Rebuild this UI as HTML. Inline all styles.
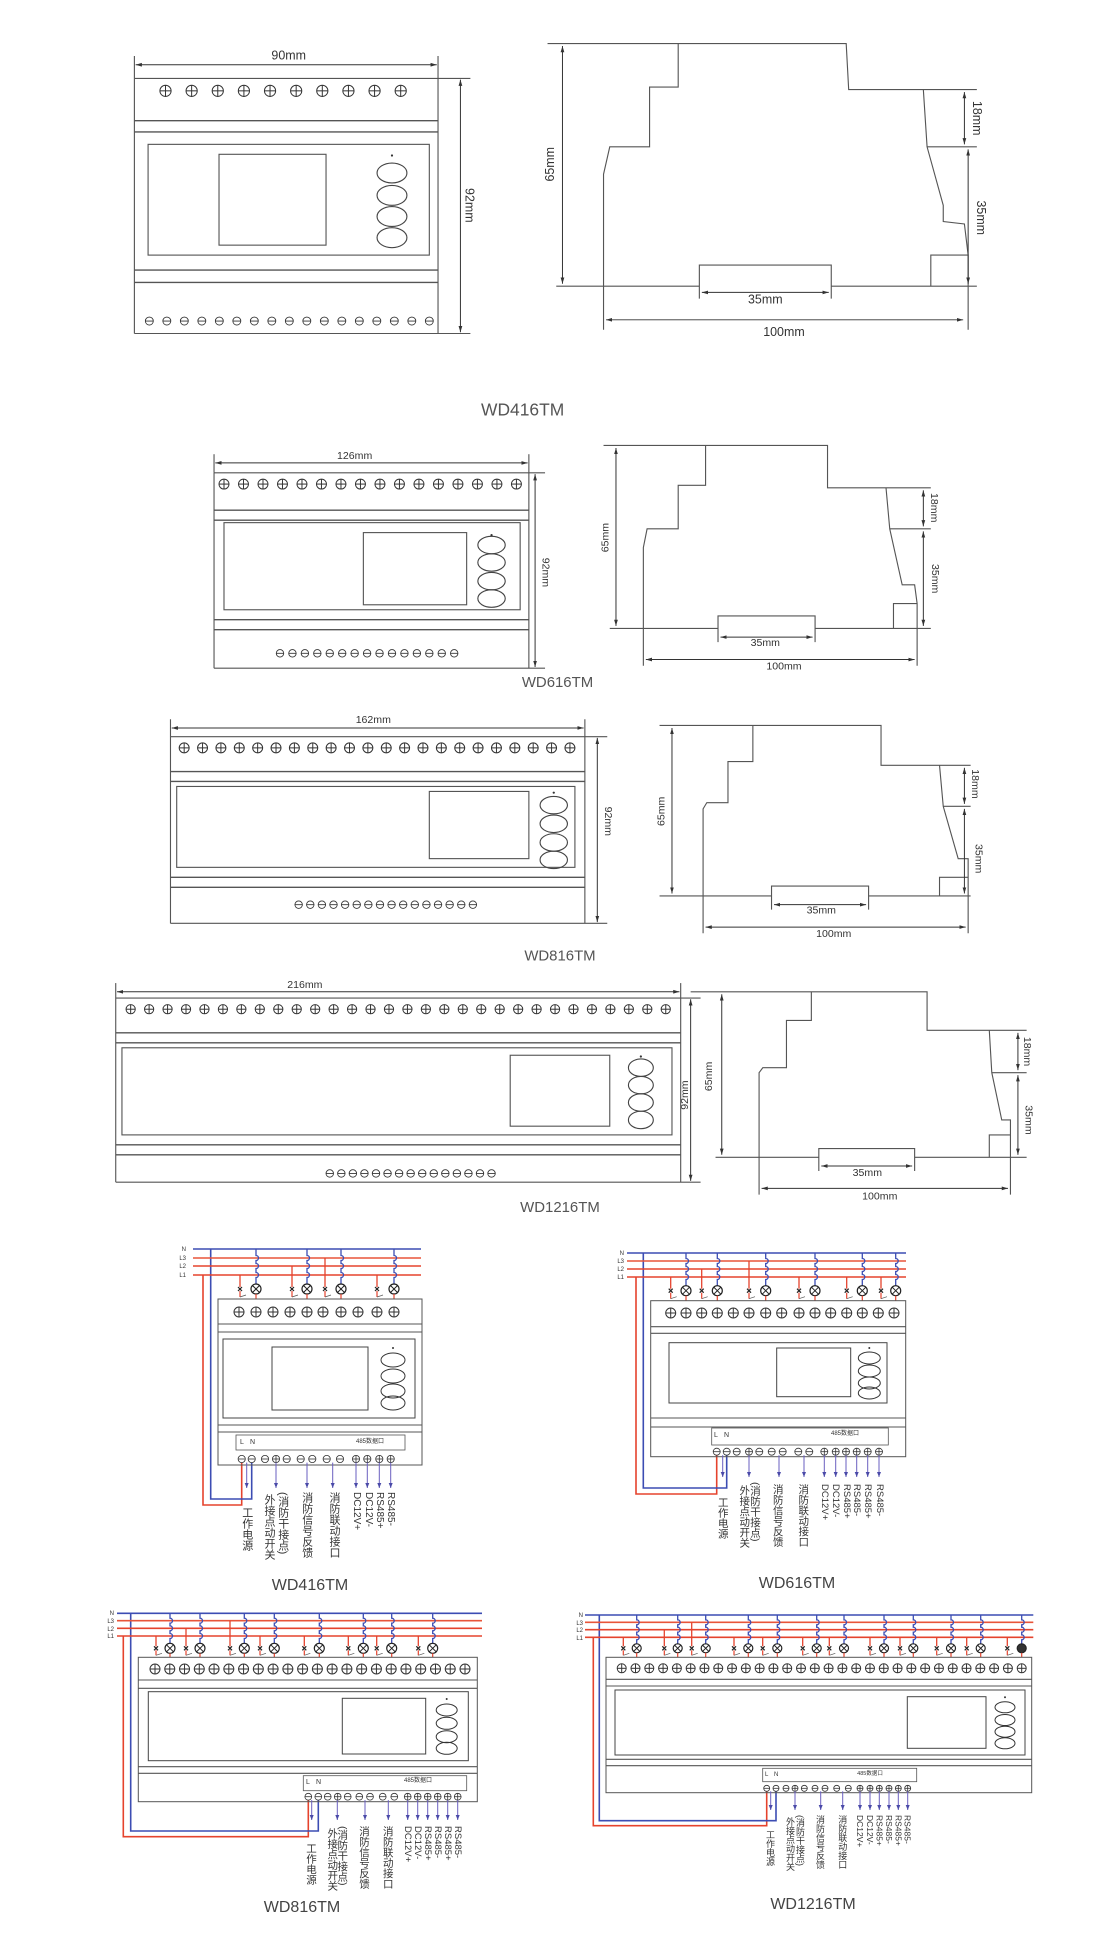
<!DOCTYPE html>
<html><head><meta charset="utf-8"><style>
html,body{margin:0;padding:0;background:#fff;}
svg{display:block;}
.t{font-family:"Liberation Sans Narrow","Liberation Sans",sans-serif;fill:#333;}
.c{font-family:"Liberation Sans","Noto Sans CJK SC",sans-serif;fill:#333;}
.v{writing-mode:vertical-rl;font-family:"Liberation Sans","Noto Sans CJK SC",sans-serif;fill:#333;}
.tt{font-family:"Liberation Sans Narrow","Liberation Sans",sans-serif;fill:#444;text-anchor:middle;}
</style></head><body>
<svg id="s" xmlns="http://www.w3.org/2000/svg" width="1120" height="1953" viewBox="0 0 1120 1953">
<defs>
<marker id="ar" viewBox="0 0 10 10" refX="10" refY="5" markerWidth="5" markerHeight="5" orient="auto-start-reverse" markerUnits="userSpaceOnUse"><path d="M0,2 L10,5 L0,8z" fill="#333"/></marker>
<marker id="ab" viewBox="0 0 10 10" refX="10" refY="5" markerWidth="5" markerHeight="5" orient="auto" markerUnits="userSpaceOnUse"><path d="M0,1 L10,5 L0,9z" fill="#4a4aa8"/></marker>
</defs>
<rect width="1120" height="1953" fill="#fff"/>
<g id="top" transform="scale(1.2444)">
<g fill="none" stroke="#555" stroke-width="0.9">
<!-- side views -->
<path d="M485,265 L485,140 L490,118 L522,118 L522,70 L545,70 L545,35 L680,35 L682,72 L742,72 L745,118 L758,165 L758,178 L775,180 L778,205 L778,265 M748,230 L748,205 L778,205 M440,35 L545,35 M682,72 L785,72 M745,118 L785,118 M447,230 L562,230 L562,213 L668,213 L668,230 L785,230 M562,213 L562,240 M668,213 L668,240"/>
<path d="M517,535 L517,440 L520,425 L545,425 L545,390 L567,390 L567,358 L665,358 L665,392 L712,392 L715,425 L725,470 L735,470 L737,485 L737,535 M718,505 L718,485 L737,485 M485,358 L567,358 M665,392 L748,392 M715,425 L748,425 M490,505 L577,505 L577,495 L655,495 L655,505 L748,505 M577,495 L577,516 M655,495 L655,516"/>
<path d="M565,750 L565,650 L568,645 L585,645 L585,612 L605,612 L605,583 L708,583 L708,615 L755,615 L758,648 L770,690 L778,690 L778,750 M755,720 L755,705 L778,705 M530,583 L605,583 M708,615 L780,615 M758,648 L780,648 M530,720 L620,720 L620,712 L698,712 L698,720 L780,720 M620,712 L620,731 M698,712 L698,731"/>
<path d="M610,960 L610,862 L613,858 L632,858 L632,820 L652,820 L652,797 L745,797 L745,828 L795,828 L797,862 L805,900 L812,900 L812,960 M795,930 L795,912 L812,912 M555,797 L652,797 M745,828 L825,828 M797,862 L825,862 M575,930 L658,930 L658,923 L735,923 L735,930 L825,930 M658,923 L658,941 M735,923 L735,941"/>
</g>
<g stroke="#333" stroke-width="0.8" marker-start="url(#ar)" marker-end="url(#ar)">
<line x1="452" y1="37" x2="452" y2="228"/><line x1="775" y1="74" x2="775" y2="116"/><line x1="778" y1="120" x2="778" y2="228"/><line x1="564" y1="235" x2="666" y2="235"/><line x1="487" y1="257" x2="774" y2="257"/>
<line x1="495" y1="360" x2="495" y2="503"/><line x1="742" y1="394" x2="742" y2="423"/><line x1="742" y1="427" x2="742" y2="503"/><line x1="579" y1="512" x2="653" y2="512"/><line x1="519" y1="530" x2="735" y2="530"/>
<line x1="540" y1="585" x2="540" y2="718"/><line x1="775" y1="617" x2="775" y2="646"/><line x1="775" y1="650" x2="775" y2="718"/><line x1="622" y1="727" x2="696" y2="727"/><line x1="567" y1="745" x2="776" y2="745"/>
<line x1="580" y1="799" x2="580" y2="928"/><line x1="818" y1="830" x2="818" y2="860"/><line x1="818" y1="864" x2="818" y2="928"/><line x1="660" y1="937" x2="733" y2="937"/><line x1="612" y1="955" x2="810" y2="955"/>
</g>
<g class="t" font-size="10">
<text x="232" y="48" text-anchor="middle">90mm</text>
<text transform="translate(374,165) rotate(90)" text-anchor="middle">92mm</text>
<text transform="translate(445,132) rotate(-90)" text-anchor="middle">65mm</text>
<text transform="translate(782,95) rotate(90)" text-anchor="middle">18mm</text>
<text transform="translate(785,175) rotate(90)" text-anchor="middle">35mm</text>
<text x="615" y="244" text-anchor="middle">35mm</text>
<text x="630" y="270" text-anchor="middle">100mm</text>
<text x="420" y="334" text-anchor="middle" font-size="14" fill="#555">WD416TM</text>
<g font-size="8.5">
<text x="285" y="369" text-anchor="middle">126mm</text>
<text transform="translate(436,460) rotate(90)" text-anchor="middle">92mm</text>
<text transform="translate(489,432) rotate(-90)" text-anchor="middle">65mm</text>
<text transform="translate(748,408) rotate(90)" text-anchor="middle">18mm</text>
<text transform="translate(749,465) rotate(90)" text-anchor="middle">35mm</text>
<text x="615" y="519" text-anchor="middle">35mm</text>
<text x="630" y="538" text-anchor="middle">100mm</text>
<text x="300" y="581" text-anchor="middle">162mm</text>
<text transform="translate(486,660) rotate(90)" text-anchor="middle">92mm</text>
<text transform="translate(534,652) rotate(-90)" text-anchor="middle">65mm</text>
<text transform="translate(781,630) rotate(90)" text-anchor="middle">18mm</text>
<text transform="translate(784,690) rotate(90)" text-anchor="middle">35mm</text>
<text x="660" y="734" text-anchor="middle">35mm</text>
<text x="670" y="753" text-anchor="middle">100mm</text>
<text x="245" y="794" text-anchor="middle">216mm</text>
<text transform="translate(553,880) rotate(-90)" text-anchor="middle">92mm</text>
<text transform="translate(572,865) rotate(-90)" text-anchor="middle">65mm</text>
<text transform="translate(823,845) rotate(90)" text-anchor="middle">18mm</text>
<text transform="translate(824,900) rotate(90)" text-anchor="middle">35mm</text>
<text x="697" y="945" text-anchor="middle">35mm</text>
<text x="707" y="964" text-anchor="middle">100mm</text>
</g>
<text x="448" y="552" text-anchor="middle" font-size="12" fill="#555">WD616TM</text>
<text x="450" y="772" text-anchor="middle" font-size="12" fill="#555">WD816TM</text>
<text x="450" y="974" text-anchor="middle" font-size="12" fill="#555">WD1216TM</text>
</g>
</g>
<g id="wire"></g>
<g id="txt">
<g class="c" font-size="6">
<text x="186" y="1251" text-anchor="end">N</text><text x="186" y="1260" text-anchor="end">L3</text><text x="186" y="1268" text-anchor="end">L2</text><text x="186" y="1277" text-anchor="end">L1</text>
<text x="624" y="1255" text-anchor="end">N</text><text x="624" y="1263" text-anchor="end">L3</text><text x="624" y="1271" text-anchor="end">L2</text><text x="624" y="1279" text-anchor="end">L1</text>
<text x="114" y="1615" text-anchor="end">N</text><text x="114" y="1623" text-anchor="end">L3</text><text x="114" y="1631" text-anchor="end">L2</text><text x="114" y="1638" text-anchor="end">L1</text>
<text x="583" y="1617" text-anchor="end">N</text><text x="583" y="1625" text-anchor="end">L3</text><text x="583" y="1632" text-anchor="end">L2</text><text x="583" y="1640" text-anchor="end">L1</text>
<text x="240" y="1444" font-size="7">L</text><text x="250" y="1444" font-size="7">N</text><text x="370" y="1443" font-size="6" text-anchor="middle">485数据口</text>
<text x="714" y="1437" font-size="7">L</text><text x="724" y="1437" font-size="7">N</text><text x="845" y="1435" font-size="6" text-anchor="middle">485数据口</text>
<text x="306" y="1784" font-size="7">L</text><text x="316" y="1784" font-size="7">N</text><text x="418" y="1782" font-size="6" text-anchor="middle">485数据口</text>
<text x="765" y="1776" font-size="6">L</text><text x="774" y="1776" font-size="6">N</text><text x="870" y="1775" font-size="5.5" text-anchor="middle">485数据口</text>
</g>
<g class="v" font-size="11">
<text x="246.7" y="1507">工作电源</text><text x="269" y="1494">外接点动开关</text><text x="282.7" y="1492">(消防干接点)</text><text x="306.7" y="1492">消防信号反馈</text><text x="334" y="1492">消防联动接口</text>
<g font-size="10"><text x="356.7" y="1492">DC12V+</text><text x="368.3" y="1492">DC12V-</text><text x="379.3" y="1492">RS485+</text><text x="390.7" y="1492">RS485-</text></g>
</g>
<g class="v" font-size="10.5">
<text x="722.7" y="1497">工作电源</text><text x="744.3" y="1485">外接点动开关</text><text x="755" y="1482">(消防干接点)</text><text x="777.7" y="1484">消防信号反馈</text><text x="803.3" y="1484">消防联动接口</text>
<g font-size="9.5"><text x="824.3" y="1484">DC12V+</text><text x="835.7" y="1484">DC12V-</text><text x="846.7" y="1484">RS485+</text><text x="856.7" y="1484">RS485-</text><text x="867.7" y="1484">RS485+</text><text x="879.3" y="1484">RS485-</text></g>
</g>
<g class="v" font-size="10.5">
<text x="311" y="1843">工作电源</text><text x="332.3" y="1828">外接点动开关</text><text x="342.3" y="1826">(消防干接点)</text><text x="364" y="1826">消防信号反馈</text><text x="387.7" y="1826">消防联动接口</text>
<g font-size="9.5"><text x="407.7" y="1826">DC12V+</text><text x="417.7" y="1826">DC12V-</text><text x="427.7" y="1826">RS485+</text><text x="437.7" y="1826">RS485-</text><text x="447.7" y="1826">RS485+</text><text x="457.7" y="1826">RS485-</text></g>
</g>
<g class="v" font-size="9">
<text x="770" y="1830">工作电源</text><text x="790" y="1817">外接点动开关</text><text x="800" y="1815">(消防干接点)</text><text x="820" y="1815">消防信号反馈</text><text x="842.3" y="1815">消防联动接口</text>
<g font-size="8.5"><text x="860" y="1815">DC12V+</text><text x="870" y="1815">DC12V-</text><text x="879.3" y="1815">RS485+</text><text x="889" y="1815">RS485-</text><text x="898.3" y="1815">RS485+</text><text x="907.7" y="1815">RS485-</text></g>
</g>
<g class="tt">
<text x="310" y="1590" font-size="16">WD416TM</text>
<text x="797" y="1588" font-size="16">WD616TM</text>
<text x="302" y="1912" font-size="16">WD816TM</text>
<text x="813" y="1909" font-size="16">WD1216TM</text>
</g>
</g>
</svg>
<script>
const NS='http://www.w3.org/2000/svg';
function el(p,t,a){const e=document.createElementNS(NS,t);for(const k in a)e.setAttribute(k,a[k]);p.appendChild(e);return e;}
function line(p,x1,y1,x2,y2,c,w){return el(p,'line',{x1:x1,y1:y1,x2:x2,y2:y2,stroke:c||'#555','stroke-width':w||1});}
function rect(p,x1,y1,x2,y2,c,w){return el(p,'rect',{x:x1,y:y1,width:x2-x1,height:y2-y1,fill:'none',stroke:c||'#555','stroke-width':w||1});}
function term(p,x,y,r,plus,w){el(p,'circle',{cx:x,cy:y,r:r,fill:'#fff',stroke:'#333','stroke-width':w});line(p,x-r,y,x+r,y,'#333',w);if(plus)line(p,x,y-r,x,y+r,'#333',w);}
function spread(a,b,n){const r=[];for(let i=0;i<n;i++)r.push(a+(b-a)*i/(n-1));return r;}
const top_=document.getElementById('top');
function front(c){const g=el(top_,'g',{});const w=0.9;
 line(g,c.x1,c.dimY-7,c.x1,c.top,'#555',w);line(g,c.x2,c.dimY-7,c.x2,c.top,'#555',w);
 el(g,'line',{x1:c.x1+1,y1:c.dimY,x2:c.x2-1,y2:c.dimY,stroke:'#333','stroke-width':0.8,'marker-start':'url(#ar)','marker-end':'url(#ar)'});
 line(g,c.x1,c.top,c.dimX+8,c.top,'#555',w);line(g,c.x1,c.bottom,c.dimX+8,c.bottom,'#555',w);
 line(g,c.x1,c.top,c.x1,c.bottom,'#555',w);line(g,c.x2,c.top,c.x2,c.bottom,'#555',w);
 el(g,'line',{x1:c.dimX,y1:c.top+1,x2:c.dimX,y2:c.bottom-1,stroke:'#333','stroke-width':0.8,'marker-start':'url(#ar)','marker-end':'url(#ar)'});
 [c.l1,c.l2,c.l3,c.l4].forEach(y=>line(g,c.x1,y,c.x2,y,'#555',1.1));
 rect(g,c.d[0],c.d[1],c.d[2],c.d[3],'#555',w);rect(g,c.s[0],c.s[1],c.s[2],c.s[3],'#555',w);
 c.by.forEach(y=>el(g,'ellipse',{cx:c.bx,cy:y,rx:c.rx,ry:c.ry,fill:'none',stroke:'#444','stroke-width':w}));
 el(g,'circle',{cx:c.bx,cy:c.dot,r:0.9,fill:'#333'});
 spread(c.tx[0],c.tx[1],c.tn).forEach(x=>term(g,x,c.ty,c.tr,true,0.8));
 spread(c.bt[0],c.bt[1],c.bn).forEach(x=>term(g,x,c.bty,c.br,false,0.7));
}
front({x1:108,x2:352,dimY:52,top:63,bottom:268,dimX:370,l1:97,l2:106,l3:217,l4:227,d:[119,116,345,205],s:[176,124,262,197],bx:315,by:[139,157,174,191],rx:12,ry:8,dot:125,tx:[133,322],tn:10,ty:73,tr:4.5,bt:[120,345],bn:17,bty:258,br:3.2});
front({x1:172,x2:425,dimY:372,top:380,bottom:537,dimX:430,l1:410,l2:418,l3:498,l4:506,d:[180,420,418,490],s:[292,428,375,486],bx:395,by:[438,452,467,481],rx:11,ry:7,dot:430,tx:[180,415],tn:16,ty:389,tr:4,bt:[225,365],bn:15,bty:525,br:3});
front({x1:137,x2:470,dimY:585,top:592,bottom:742,dimX:480,l1:620,l2:628,l3:705,l4:713,d:[142,632,462,697],s:[345,636,425,690],bx:445,by:[647,662,677,691],rx:11,ry:7,dot:637,tx:[148,458],tn:22,ty:601,tr:4,bt:[240,380],bn:16,bty:727,br:3});
front({x1:93,x2:547,dimY:797,top:802,bottom:950,dimX:555,l1:830,l2:838,l3:920,l4:928,d:[98,842,540,912],s:[410,848,490,905],bx:515,by:[858,872,886,900],rx:10,ry:7,dot:849,tx:[105,535],tn:30,ty:811,tr:3.7,bt:[265,395],bn:15,bty:943,br:3});

const W=document.getElementById('wire');
function poly(pts,c,w){el(W,'polyline',{points:pts.map(p=>p.join(',')).join(' '),fill:'none',stroke:c,'stroke-width':w});}
function wiring(c){
 const red='#e5432d',blue='#3c4db3';
 poly([[c.red[0],c.bus[3]],[c.red[0],c.red[1]],[c.bot[0],c.red[1]],[c.bot[0],c.botY]],red,1.6);
 poly([[c.blue[0],c.bus[0]],[c.blue[0],c.blue[1]],[c.bot[1],c.blue[1]],[c.bot[1],c.botY]],blue,1.6);
 line(W,c.bx[0],c.bus[0],c.bx[1],c.bus[0],blue,1.6);
 line(W,c.bx[0],c.bus[1],c.bx[1],c.bus[1],'#e8553a',1.6);
 line(W,c.bx[0],c.bus[2],c.bx[1],c.bus[2],red,1.6);
 line(W,c.bx[0],c.bus[3],c.bx[1],c.bus[3],red,1.6);
 const r=c.lr;
 c.pairs.forEach((p,i)=>{const b=p[0],l=p[1],k=p[2];
  line(W,b,c.bus[k],b,c.lampY-2,red,1.3);
  line(W,b-2,c.lampY-2,b+2,c.lampY+2,'#222',1.2);line(W,b-2,c.lampY+2,b+2,c.lampY-2,'#222',1.2);
  line(W,b,c.lampY+2,b,c.box[1]-2,red,1.2);
  line(W,b,c.box[1]-2,b+6,c.box[1]-4,'#555',0.7);
  let d='M'+l+','+c.bus[0];
  for(let j=1;j<4;j++){d+=' L'+l+','+(c.bus[j]-2.5)+' A2.5,2.5 0 0 1 '+l+','+(c.bus[j]+2.5);}
  d+=' L'+l+','+(c.lampY-r);
  el(W,'path',{d:d,fill:'none',stroke:blue,'stroke-width':1.3});
  const dark=(c.darkLast&&i==c.pairs.length-1);
  el(W,'circle',{cx:l,cy:c.lampY,r:r,fill:dark?'#333':'#fff',stroke:'#222','stroke-width':1.2});
  if(!dark){const q=r*0.7;line(W,l-q,c.lampY-q,l+q,c.lampY+q,'#222',1);line(W,l-q,c.lampY+q,l+q,c.lampY-q,'#222',1);}
  line(W,l,c.lampY+r,l,c.box[1],red,1.2);
 });
 rect(W,c.box[0],c.box[1],c.box[2],c.box[3],'#555',1);
 [c.la[0],c.la[1],c.lb[0],c.lb[1]].forEach(y=>line(W,c.box[0],y,c.box[2],y,'#555',1.1));
 rect(W,c.d[0],c.d[1],c.d[2],c.d[3],'#444',1);rect(W,c.s[0],c.s[1],c.s[2],c.s[3],'#444',1);
 c.by.forEach(y=>el(W,'ellipse',{cx:c.btnX,cy:y,rx:c.rx,ry:c.ry,fill:'none',stroke:'#333','stroke-width':1}));
 el(W,'circle',{cx:c.btnX,cy:c.dot,r:1,fill:'#333'});
 c.top.forEach(x=>term(W,x,c.topY,c.tr,true,1));
 rect(W,c.lbox[0],c.lbox[1],c.lbox[2],c.lbox[3],'#555',0.8);
 c.bot.forEach((x,i)=>term(W,x,c.botY,c.br,(i==3||i>=9),0.8));
 c.arr.forEach(x=>el(W,'line',{x1:x,y1:c.botY+c.br,x2:x,y2:c.arrEnd,stroke:'#6a5fc0','stroke-width':1,'marker-end':'url(#ab)'}));
}
wiring({bus:[1249,1258,1266,1275],bx:[193,421],red:[203,1505],blue:[210.7,1499],
 box:[218,1299,422,1465],la:[1324,1332],lb:[1425,1432],d:[223,1339,415,1418],s:[272,1347,368,1410],
 btnX:393,by:[1360,1376,1391,1403],rx:12,ry:7,dot:1348,topY:1312,tr:5,
 top:[239,256,273,290,307,323,341,358,377,394],lbox:[236,1435,405,1450],botY:1459,br:3.6,
 bot:[241.7,251.7,265,276,286.7,300.7,312.3,326.7,340,356,367.3,379.3,390.7],
 arr:[246.7,276,307,332.7,356,367.3,379.3,390.7],arrEnd:1488,
 pairs:[[240,256,3],[292,307,2],[325,341,1],[377,394,3]],lampY:1289,lr:5});
wiring({bus:[1253,1261,1269,1277],bx:[627,906],red:[636,1494],blue:[643.3,1488],
 box:[650.7,1300.7,905.7,1456.7],la:[1326.7,1333.3],lb:[1418,1427],d:[669,1342.7,887,1403],s:[776.7,1348,850.7,1396.7],
 btnX:869.3,by:[1358,1371,1383,1393],rx:11,ry:6,dot:1348,topY:1313,tr:5,
 top:[670.7,686,701.7,717.3,733.3,749,765.7,781.7,799,815,830.7,846.7,862.3,878.3,894],lbox:[711.7,1428,888.3,1445],botY:1451.7,br:3.5,
 bot:[716.7,726.7,736.7,749,759.3,771.7,782.7,798.3,809.3,824.3,835.7,846,856.7,867.7,879],
 arr:[722.7,749,779,804,824.3,835.7,846,856.7,867.7,879],arrEnd:1477,
 pairs:[[670.7,686,3],[701.7,717.3,2],[749,765.7,1],[799,815,3],[846.7,862.3,3],[881,895.7,3]],lampY:1290.7,lr:5});
wiring({bus:[1613.3,1620.7,1628.3,1636],bx:[117,482],red:[123.3,1836.7],blue:[130.7,1831],
 box:[138.3,1657.3,477.3,1801.7],la:[1680,1688.3],lb:[1766.7,1773.3],d:[148.3,1691.7,468.3,1760.7],s:[342.3,1698.3,425.7,1754],
 btnX:446.7,by:[1710,1723.3,1736.7,1748.3],rx:10.5,ry:6,dot:1699,topY:1669,tr:5,
 top:spread(155,465,22),lbox:[303.3,1775.7,466.7,1790.7],botY:1796.7,br:3.4,
 bot:[308.3,318.3,327.7,337.7,347.7,359.3,370,382.7,394.3,407.7,417.7,427.7,437.7,447.7,457.7],
 arr:[311.7,337.3,365,388.3,407.7,417.7,427.7,437.7,447.7,457.7],arrEnd:1820,
 pairs:[[156,170,3],[186,200,2],[230,244.3,1],[260,274.3,3],[304.3,319.3,3],[348.3,363.3,3],[376.7,391.7,3],[418.3,432.7,3]],lampY:1648.3,lr:5});
wiring({bus:[1615,1622.3,1629.7,1637.3],bx:[585,1033.3],red:[593.3,1825.7],blue:[599.3,1820.7],
 box:[606,1657.3,1031.7,1792.7],la:[1679.3,1686],lb:[1759.3,1765.7],d:[615,1690,1025,1755],s:[907.3,1696.7,986,1748.3],
 btnX:1005,by:[1707.3,1720,1731.7,1743.3],rx:10,ry:5.5,dot:1697.3,topY:1668.3,tr:4.5,
 top:spread(621.7,1021.7,30),lbox:[762.7,1768.3,916.7,1781.7],botY:1788.3,br:3,
 bot:[766.7,776,786,795,804.3,815,825,836.7,848.3,860,870,879.3,889,898.3,907.7],
 arr:[770.7,795,820.7,842.7,860,870,879.3,889,898.3,907.7],arrEnd:1810,
 pairs:[[623.3,636.7,3],[664.3,677.7,2],[691.7,705.7,1],[734,748.3,3],[762.7,777.3,3],[802.7,816.7,3],[829.3,844,3],[870,884,3],[900,913.3,3],[936.7,951,3],[966.7,980.7,3],[1007.3,1021.7,3]],lampY:1648.3,lr:4.5,darkLast:true});
</script>
</body></html>
